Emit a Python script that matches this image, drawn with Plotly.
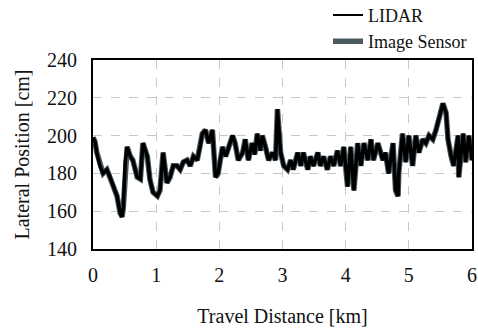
import plotly.graph_objects as go

distance_km = [0.00, 0.03, 0.06, 0.11, 0.16, 0.22, 0.27, 0.32, 0.38, 0.43, 0.46, 0.48, 0.51, 0.54, 0.59,
               0.63, 0.70, 0.75, 0.79, 0.86, 0.90, 0.95, 1.02, 1.06, 1.11, 1.17, 1.22, 1.27, 1.33, 1.38,
               1.43, 1.49, 1.54, 1.59, 1.65, 1.70, 1.73, 1.78, 1.83, 1.89, 1.94, 1.98, 2.05, 2.10, 2.14,
               2.21, 2.25, 2.30, 2.37, 2.41, 2.46, 2.52, 2.56, 2.60, 2.65, 2.68, 2.73, 2.78, 2.84, 2.89,
               2.92, 2.97, 3.02, 3.08, 3.13, 3.17, 3.24, 3.29, 3.33, 3.40, 3.44, 3.49, 3.56, 3.60, 3.65,
               3.71, 3.76, 3.81, 3.87, 3.92, 3.97, 4.03, 4.08, 4.13, 4.19, 4.24, 4.29, 4.35, 4.40, 4.44,
               4.51, 4.59, 4.63, 4.68, 4.75, 4.79, 4.83, 4.84, 4.90, 4.95, 5.00, 5.06, 5.11, 5.16, 5.22,
               5.27, 5.32, 5.38, 5.43, 5.48, 5.54, 5.59, 5.62, 5.67, 5.71, 5.78, 5.79, 5.86, 5.90, 5.95,
               6.00]

lidar_cm = [199, 197, 191, 184, 180, 182, 178, 173, 168, 159, 157, 162, 186, 194, 189,
            187, 178, 177, 196, 189, 177, 170, 168, 171, 191, 175, 178, 184, 184, 182,
            186, 187, 184, 189, 187, 195, 201, 203, 196, 203, 178, 180, 194, 189, 193,
            200, 196, 187, 191, 198, 187, 196, 190, 201, 192, 200, 194, 187, 191, 187,
            214, 191, 184, 182, 187, 182, 191, 184, 191, 182, 189, 184, 191, 184, 189,
            182, 189, 184, 192, 184, 194, 173, 194, 171, 196, 184, 196, 187, 198, 187,
            196, 187, 191, 180, 196, 171, 168, 180, 201, 186, 200, 184, 200, 191, 198,
            196, 200, 198, 203, 210, 217, 212, 198, 189, 184, 200, 178, 201, 186, 200,
            187]

image_sensor_cm = [199, 197, 191, 184, 180, 182, 178, 173, 168, 159, 157, 162, 186, 194, 189,
                   187, 178, 177, 196, 189, 177, 170, 168, 171, 191, 175, 178, 184, 184, 182,
                   186, 187, 184, 189, 187, 195, 201, 203, 196, 203, 178, 180, 194, 189, 193,
                   200, 196, 187, 191, 198, 187, 196, 190, 201, 192, 200, 194, 187, 191, 187,
                   214, 191, 184, 182, 187, 182, 191, 184, 191, 182, 189, 184, 191, 184, 189,
                   182, 189, 184, 192, 184, 194, 173, 194, 171, 196, 184, 196, 187, 198, 187,
                   196, 187, 191, 180, 196, 171, 168, 180, 201, 186, 200, 184, 200, 191, 198,
                   196, 200, 198, 203, 210, 217, 212, 198, 189, 184, 200, 178, 201, 186, 200,
                   187]

x_ticks = [0, 1, 2, 3, 4, 5, 6]
y_ticks = [140, 160, 180, 200, 220, 240]

FONT = "Liberation Serif"

fig = go.Figure()
fig.add_trace(go.Scatter(x=distance_km, y=lidar_cm, mode="lines", name="LIDAR",
                         line=dict(color="#000000", width=2)))
fig.add_trace(go.Scatter(x=distance_km, y=image_sensor_cm, mode="lines", name="Image Sensor",
                         line=dict(color="#4a5960", width=5.5)))
# redraw LIDAR on top without legend entry
fig.add_trace(go.Scatter(x=distance_km, y=lidar_cm, mode="lines", showlegend=False,
                         line=dict(color="#000000", width=3.5)))

fig.update_layout(
    width=478, height=329,
    margin=dict(l=93, r=6, t=60, b=80, autoexpand=False),
    paper_bgcolor="white", plot_bgcolor="white",
    font=dict(family=FONT, size=20, color="#111111"),
    showlegend=True,
    legend=dict(x=1.0, xanchor="right", y=1.335, yanchor="top",
                bgcolor="rgba(0,0,0,0)", font=dict(family=FONT, size=18),
                tracegroupgap=0, itemwidth=30),
    xaxis=dict(range=[0, 6], tickvals=x_ticks, ticks="", showline=True, mirror=True,
               linecolor="#000000", linewidth=2, showgrid=True, gridcolor="#c8c8c8",
               griddash="dash", gridwidth=1, zeroline=False, ticklabelstandoff=7,
               ticklabeloverflow="allow", automargin=False,
               title=dict(text="Travel Distance [km]", standoff=24, font=dict(size=20))),
    yaxis=dict(range=[140, 240], tickvals=y_ticks, ticks="", showline=True, mirror=True,
               linecolor="#000000", linewidth=2, showgrid=True, gridcolor="#c8c8c8",
               griddash="dash", gridwidth=1, zeroline=False, ticklabelstandoff=10,
               ticklabeloverflow="allow", automargin=False,
               title=dict(text="Lateral Position [cm]", standoff=12, font=dict(size=20))),
)

fig.write_html("out.html", config={"displayModeBar": False},
               post_script="document.body.style.margin='0';document.body.style.overflow='hidden';")
